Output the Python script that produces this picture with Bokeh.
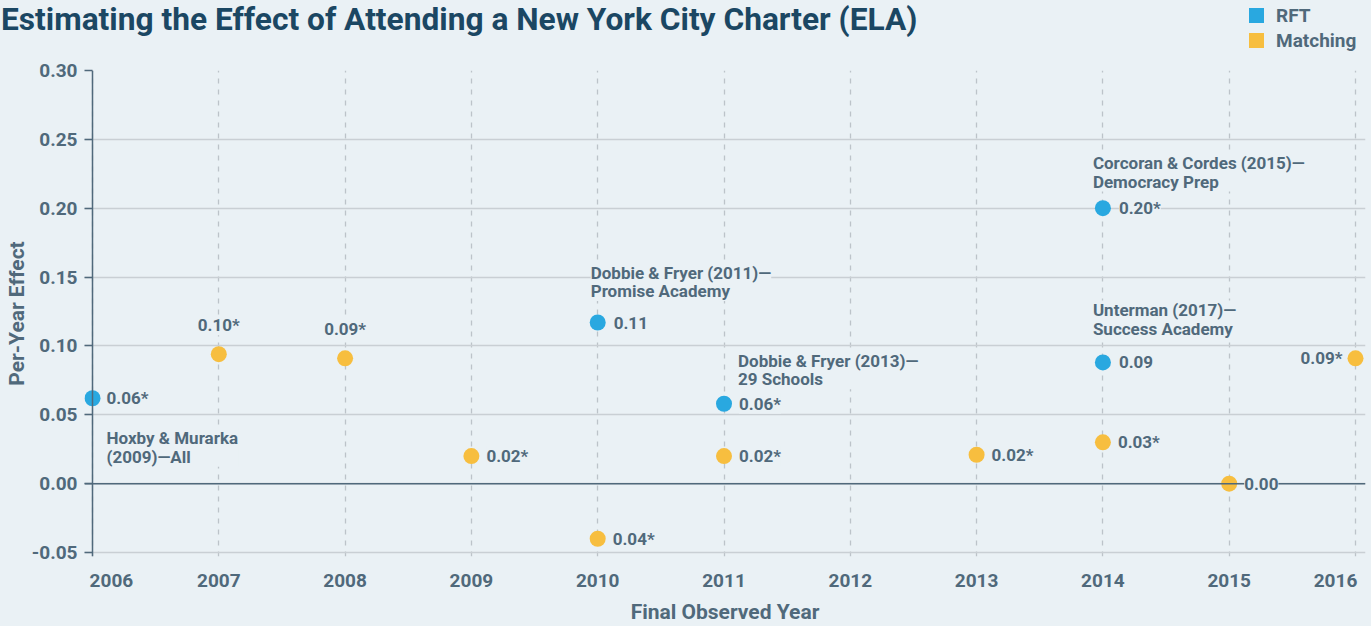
from bokeh.plotting import figure
from bokeh.layouts import column
from bokeh.models import (ColumnDataSource, LabelSet, Span, FixedTicker, Div)
from bokeh.embed import file_html
from bokeh.resources import INLINE
from bokeh.core.properties import value

# ---------------- data ----------------
title_text = "Estimating the Effect of Attending a New York City Charter (ELA)"
x_title = "Final Observed Year"
y_title = "Per-Year Effect"
series_names = ["RFT", "Matching"]

rft_years = [2006, 2010, 2011, 2014, 2014]
rft_values = [0.062, 0.117, 0.058, 0.200, 0.088]
rft_labels = ["0.06*", "0.11", "0.06*", "0.20*", "0.09"]
rft_studies = [
    "Hoxby & Murarka\n(2009)\u2014All",
    "Dobbie & Fryer (2011)\u2014\nPromise Academy",
    "Dobbie & Fryer (2013)\u2014\n29 Schools",
    "Corcoran & Cordes (2015)\u2014\nDemocracy Prep",
    "Unterman (2017)\u2014\nSuccess Academy",
]

match_years = [2007, 2008, 2009, 2010, 2011, 2013, 2014, 2015, 2016]
match_values = [0.094, 0.091, 0.020, -0.040, 0.020, 0.021, 0.030, 0.000, 0.091]
match_labels = ["0.10*", "0.09*", "0.02*", "0.04*", "0.02*", "0.02*", "0.03*", "0.00", "0.09*"]

x_ticks = list(range(2006, 2017))
x_tick_labels = [str(v) for v in x_ticks]
y_ticks = [-0.05, 0.0, 0.05, 0.10, 0.15, 0.20, 0.25, 0.30]
y_tick_labels = ["-0.05", "0.00", "0.05", "0.10", "0.15", "0.20", "0.25", "0.30"]

# ---------------- style ----------------
BG = "#EAF1F5"
TXT = "#50697B"
TITLE_C = "#1B4763"
BLUE = "#29A8E0"
YELLOW = "#F7BE3F"
GRID = "#C9CFD4"
FONT = "Roboto"
series_colors = [BLUE, YELLOW]

W = 1371
HEAD_H = 60
MAIN_H = 626 - HEAD_H
LEFT, RIGHT, TOP, BOTTOM = 84, 6, 70 - HEAD_H, 70

# ---------------- header: title + legend (HTML text) ----------------
parts = [
    f'<div style="position:relative;width:{W}px;height:{HEAD_H}px;overflow:hidden;'
    f'background:{BG};font-family:{FONT},sans-serif;font-weight:bold;margin:0;padding:0;">',
    f'<div style="position:absolute;left:1px;top:1px;font-size:31.7px;line-height:37px;'
    f'white-space:nowrap;color:{TITLE_C};">{title_text}</div>',
]
for i, (name, col) in enumerate(zip(series_names, series_colors)):
    top = 8 + 25 * i
    parts.append(f'<div style="position:absolute;left:1249px;top:{top}px;width:15px;'
                 f'height:15px;background:{col};"></div>')
    parts.append(f'<div style="position:absolute;left:1276px;top:{top - 2}px;font-size:19px;'
                 f'line-height:19px;white-space:nowrap;color:{TXT};">{name}</div>')
parts.append('</div>')
head = Div(text="".join(parts), width=W, height=HEAD_H, margin=0,
           styles={"background-color": BG})

# ---------------- main chart ----------------
frame_w = W - LEFT - RIGHT
frame_h = MAIN_H - TOP - BOTTOM
span_years = (x_ticks[-1] - x_ticks[0])
px_per_year = (frame_w - 18) / span_years
x0 = x_ticks[0] - 8 / px_per_year
x1 = x_ticks[-1] + 10 / px_per_year
px_per_unit = (frame_h - 4) / (y_ticks[-1] - y_ticks[0])
y0 = y_ticks[0] - 4 / px_per_unit
y1 = y_ticks[-1]

p = figure(width=W, height=MAIN_H, x_range=(x0, x1), y_range=(y0, y1),
           output_backend="svg", toolbar_location=None,
           min_border_left=LEFT, min_border_right=RIGHT,
           min_border_top=TOP, min_border_bottom=BOTTOM,
           background_fill_color=BG, border_fill_color=BG,
           outline_line_color=None, margin=0)

nb = "\u00a0"
xo = {v: s for v, s in zip(x_ticks, x_tick_labels)}
xo[x_ticks[0]] = nb * 8 + x_tick_labels[0]
xo[x_ticks[-1]] = x_tick_labels[-1] + nb * 3
p.xaxis.ticker = FixedTicker(ticks=x_ticks)
p.xaxis.major_label_overrides = xo
p.xaxis.axis_line_color = None
p.xaxis.major_tick_line_color = None
p.xaxis.minor_tick_line_color = None
p.xaxis.major_label_standoff = 6
p.xaxis.major_label_text_font = FONT
p.xaxis.major_label_text_font_size = "19px"
p.xaxis.major_label_text_font_style = "bold"
p.xaxis.major_label_text_color = TXT
p.xaxis.axis_label = x_title
p.xaxis.axis_label_standoff = 5
p.xaxis.axis_label_text_font = FONT
p.xaxis.axis_label_text_font_size = "21px"
p.xaxis.axis_label_text_font_style = "bold"
p.xaxis.axis_label_text_color = TXT

p.yaxis.ticker = FixedTicker(ticks=y_ticks)
p.yaxis.major_label_overrides = {v: s for v, s in zip(y_ticks, y_tick_labels)}
p.yaxis.axis_line_color = None
p.yaxis.major_tick_in = 8
p.yaxis.major_tick_out = 0
p.yaxis.major_tick_line_color = TXT
p.yaxis.major_tick_line_width = 1.5
p.yaxis.minor_tick_line_color = None
p.yaxis.major_label_standoff = 7
p.yaxis.major_label_text_font = FONT
p.yaxis.major_label_text_font_size = "19px"
p.yaxis.major_label_text_font_style = "bold"
p.yaxis.major_label_text_color = TXT
p.yaxis.axis_label = y_title
p.yaxis.axis_label_standoff = 0
p.yaxis.axis_label_text_font = FONT
p.yaxis.axis_label_text_font_size = "21px"
p.yaxis.axis_label_text_font_style = "bold"
p.yaxis.axis_label_text_color = TXT

p.ygrid.grid_line_color = GRID
p.ygrid.grid_line_width = 1.5
p.xgrid.grid_line_color = "#BCC3C9"
p.xgrid.grid_line_width = 1.3
p.xgrid.grid_line_dash = "5 6"

p.add_layout(Span(location=0, dimension="width", line_color=TXT, line_width=1.5))
p.add_layout(Span(location=x_ticks[0], dimension="height", line_color=TXT, line_width=1.5))

rft_src = ColumnDataSource(dict(x=rft_years, y=rft_values, t=rft_labels, s=rft_studies,
                                xo=[14, 16, 15, 16, 16],
                                sxo=[14, -7, 14, -10, -10],
                                syo=[-30, 60, 53, 55, 62]))
m_align, m_xo, m_yo = [], [], []
for yr in match_years:
    if yr in (2007, 2008):
        m_align.append("center"); m_xo.append(0); m_yo.append(29)
    elif yr == x_ticks[-1]:
        m_align.append("right"); m_xo.append(-13); m_yo.append(0)
    else:
        m_align.append("left"); m_xo.append(15); m_yo.append(0)
m_src = ColumnDataSource(dict(x=match_years, y=match_values, t=match_labels,
                              al=m_align, xo=m_xo, yo=m_yo))

p.scatter("x", "y", source=rft_src, size=16, color=BLUE, line_color=None)
p.scatter("x", "y", source=m_src, size=16, color=YELLOW, line_color=None)

common = dict(text_font=value(FONT), text_font_size="17px", text_font_style="bold",
              text_color=TXT, background_fill_color=BG)
p.add_layout(LabelSet(x="x", y="y", text="t", source=rft_src, x_offset="xo", y_offset=0,
                      text_align="left", text_baseline="middle", **common))
p.add_layout(LabelSet(x="x", y="y", text="t", source=m_src, x_offset="xo", y_offset="yo",
                      text_align="al", text_baseline="middle", **common))
p.add_layout(LabelSet(x="x", y="y", text="s", source=rft_src, x_offset="sxo", y_offset="syo",
                      text_align="left", text_baseline="top", text_line_height=0.92,
                      **common))

layout = column(head, p, spacing=0, margin=0, styles={"background-color": BG})
open("out.html", "w").write(file_html(layout, INLINE))
